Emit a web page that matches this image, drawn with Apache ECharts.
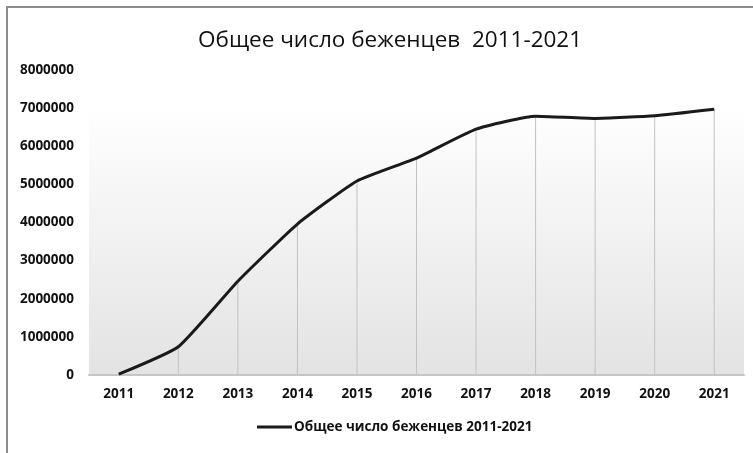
<!DOCTYPE html>
<html>
<head>
<meta charset="utf-8">
<script src="https://cdn.jsdelivr.net/npm/echarts@6/dist/echarts.min.js"></script>
<style>html,body{margin:0;padding:0;background:#fff}#c{width:753px;height:453px}</style>
</head>
<body>
<div id="c"></div>
<script>
var years = ['2011','2012','2013','2014','2015','2016','2017','2018','2019','2020','2021'];
var refugees = [20000, 740000, 2460000, 3960000, 5090000, 5690000, 6450000, 6790000, 6730000, 6800000, 6970000];
var seriesName = 'Общее число беженцев 2011-2021';
var titleText = 'Общее число беженцев  2011-2021';

var chart = echarts.init(document.getElementById('c'));
chart.setOption({
  animation: false,
  backgroundColor: '#fff',
  graphic: [{
    type: 'rect', silent: true, z: 100,
    shape: {x: 7, y: 7, width: 800, height: 500},
    style: {fill: 'none', stroke: '#8c8c8c', lineWidth: 2}
  }],
  title: {
    text: titleText, left: 193, top: 24,
    textStyle: {fontFamily: 'Open Sans', fontWeight: 'normal', fontSize: 22.5, color: '#111'}
  },
  legend: {
    data: [{name: seriesName, icon: 'rect'}], bottom: 14, left: 252,
    itemWidth: 35, itemHeight: 3,
    itemStyle: {color: '#1a1a1a'},
    textStyle: {fontFamily: 'Open Sans', fontWeight: 'bold', fontSize: 13.5, color: '#111', padding: [0,0,0,-3]}
  },
  grid: {
    left: 89, right: 9, top: 70, bottom: 78,
    show: true, borderWidth: 0,
    backgroundColor: {
      type: 'linear', x: 0, y: 0, x2: 0, y2: 1,
      colorStops: [{offset: 0, color: '#ffffff'}, {offset: 0.12, color: '#ffffff'}, {offset: 1, color: '#e3e3e3'}]
    }
  },
  xAxis: {
    type: 'category', data: years, boundaryGap: true,
    axisLine: {lineStyle: {color: '#c6c6c6', width: 2}},
    axisTick: {show: false},
    axisLabel: {margin: 12, fontFamily: 'Open Sans', fontWeight: 'bold', fontSize: 13.5, color: '#111'},
    splitLine: {show: false}
  },
  yAxis: {
    type: 'value', min: 0, max: 8000000, interval: 1000000,
    axisLine: {show: false}, axisTick: {show: false},
    splitLine: {show: false},
    axisLabel: {margin: 15, fontFamily: 'Open Sans', fontWeight: 'bold', fontSize: 13.5, color: '#111',
      formatter: function (v) { return String(v); }}
  },
  series: [{
    name: 'drop', type: 'bar', data: refugees, barWidth: 1, silent: true, z: 1,
    itemStyle: {color: '#c2c2c2'}
  }, {
    name: seriesName, type: 'line', data: refugees, smooth: 0.15,
    symbol: 'none', z: 5,
    lineStyle: {color: '#1a1a1a', width: 3},
    itemStyle: {color: '#1a1a1a'}
  }]
});
</script>
</body>
</html>
